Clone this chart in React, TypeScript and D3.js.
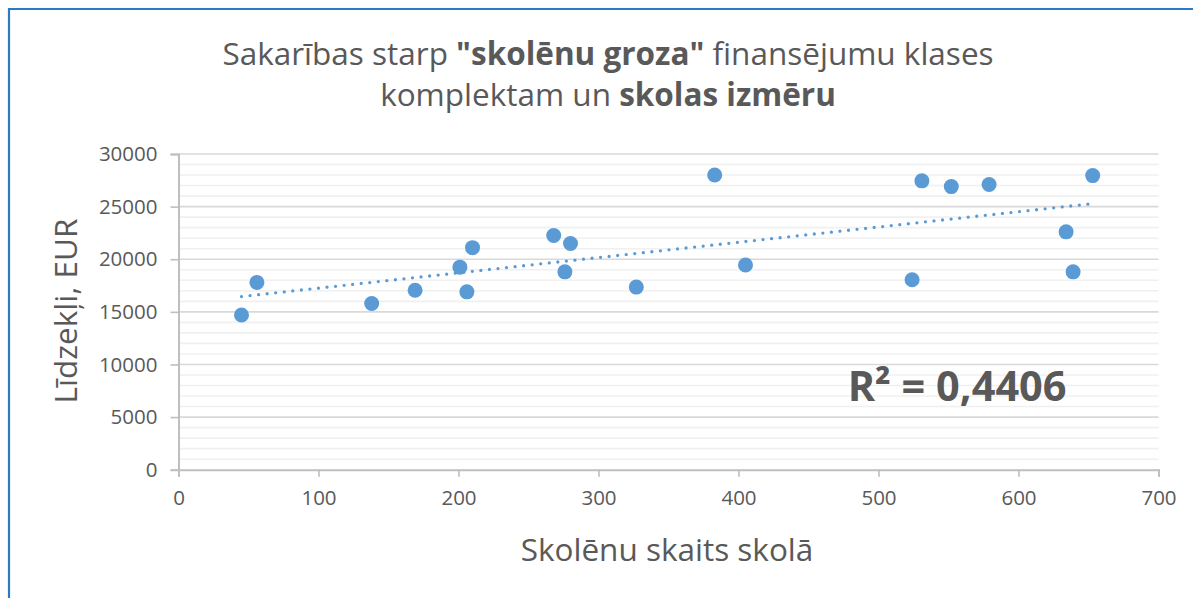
import { useEffect, useRef } from 'react';
import * as d3 from 'd3';

// skolēnu skaits skolā
const students = [45, 56, 138, 169, 201, 206, 210, 268, 276, 280, 327, 383, 405, 524, 531, 552, 579, 634, 639, 653];
// līdzekļi, EUR
const funds = [14700, 17800, 15800, 17050, 19250, 16900, 21100, 22250, 18800, 21500, 17350, 28000, 19450, 18050, 27450, 26900, 27100, 22600, 18800, 27950];

const xTicks = [0, 100, 200, 300, 400, 500, 600, 700];
const yTicks = [0, 5000, 10000, 15000, 20000, 25000, 30000];
const rSquaredLabel = 'R² = 0,4406';

export default function App() {
  const ref = useRef<SVGSVGElement | null>(null);

  useEffect(() => {
    if (!ref.current) return;
    const svg = d3.select(ref.current);
    svg.selectAll('*').remove();

    const width = 1193;
    const height = 598;
    const font = "'Open Sans', sans-serif";
    const textColor = '#595959';

    svg.attr('width', width).attr('height', height);
    svg.append('rect').attr('width', width).attr('height', height).attr('fill', '#fff');

    // chart frame (only left and top edge visible)
    svg.append('path')
      .attr('d', `M9,${height + 5} V9 H${width + 5}`)
      .attr('fill', 'none')
      .attr('stroke', '#2a7ac6')
      .attr('stroke-width', 2.2);

    const x = d3.scaleLinear().domain([0, 700]).range([178.5, 1158.5]);
    const y = d3.scaleLinear().domain([0, 30000]).range([469.7, 154]);

    const g = svg.append('g');

    // minor gridlines
    g.append('g')
      .selectAll('line')
      .data(d3.range(1000, 30001, 1000).filter((v) => v % 5000 !== 0))
      .join('line')
      .attr('x1', x(0))
      .attr('x2', x(700))
      .attr('y1', (d) => y(d))
      .attr('y2', (d) => y(d))
      .attr('stroke', '#f0f0f0')
      .attr('stroke-width', 1.6);

    // major gridlines
    g.append('g')
      .selectAll('line')
      .data(yTicks.filter((v) => v > 0))
      .join('line')
      .attr('x1', x(0))
      .attr('x2', x(700))
      .attr('y1', (d) => y(d))
      .attr('y2', (d) => y(d))
      .attr('stroke', '#d9d9d9')
      .attr('stroke-width', 1.6);

    // axes
    const xAxis = g.append('g')
      .attr('transform', `translate(0,${y(0)})`)
      .call(d3.axisBottom(x).tickValues(xTicks).tickSize(7).tickPadding(10).tickFormat((d) => `${d}`));
    const yAxis = g.append('g')
      .attr('transform', `translate(${x(0)},0)`)
      .call(d3.axisLeft(y).tickValues(yTicks).tickSize(8).tickPadding(13).tickFormat((d) => `${d}`));

    [xAxis, yAxis].forEach((ax) => {
      ax.select('.domain').attr('stroke', '#bfbfbf').attr('stroke-width', 2);
      ax.selectAll('.tick line').attr('stroke', '#bfbfbf').attr('stroke-width', 1.6);
      ax.selectAll('.tick text')
        .attr('fill', textColor)
        .attr('font-family', font)
        .attr('font-size', '20.5px');
    });
    xAxis.selectAll('.tick text').attr('dy', '0.9em');

    // trendline (least squares)
    const mx = d3.mean(students)!;
    const my = d3.mean(funds)!;
    const sxy = d3.sum(students, (v, i) => (v - mx) * (funds[i] - my));
    const sxx = d3.sum(students, (v) => (v - mx) ** 2);
    const slope = sxy / sxx;
    const intercept = my - slope * mx;
    const [x0, x1] = d3.extent(students) as [number, number];

    g.append('line')
      .attr('x1', x(x0))
      .attr('y1', y(intercept + slope * x0))
      .attr('x2', x(x1))
      .attr('y2', y(intercept + slope * x1))
      .attr('stroke', '#5b9bd5')
      .attr('stroke-width', 3.3)
      .attr('stroke-linecap', 'round')
      .attr('stroke-dasharray', '0 8.6');

    // points
    g.append('g')
      .selectAll('circle')
      .data(students)
      .join('circle')
      .attr('cx', (d) => x(d))
      .attr('cy', (_, i) => y(funds[i]))
      .attr('r', 7.5)
      .attr('fill', '#5b9bd5');

    // R² label
    g.append('text')
      .attr('x', x(478))
      .attr('y', y(6550))
      .attr('font-family', font)
      .attr('font-size', '41.5px')
      .attr('font-weight', 700)
      .attr('fill', textColor)
      .text(rSquaredLabel);

    // title
    const title = svg.append('text')
      .attr('text-anchor', 'middle')
      .attr('font-family', font)
      .attr('font-size', '31.5px')
      .attr('fill', textColor);
    const l1 = title.append('tspan').attr('x', 608).attr('y', 65);
    l1.append('tspan').text('Sakarības starp ');
    l1.append('tspan').attr('font-weight', 700).text('"skolēnu groza"');
    l1.append('tspan').text(' finansējumu klases');
    const l2 = title.append('tspan').attr('x', 608).attr('y', 106);
    l2.append('tspan').text('komplektam un ');
    l2.append('tspan').attr('font-weight', 700).text('skolas izmēru');

    // axis titles
    svg.append('text')
      .attr('x', 667)
      .attr('y', 561)
      .attr('text-anchor', 'middle')
      .attr('font-family', font)
      .attr('font-size', '31.5px')
      .attr('fill', textColor)
      .text('Skolēnu skaits skolā');

    svg.append('text')
      .attr('transform', 'translate(77,311) rotate(-90)')
      .attr('text-anchor', 'middle')
      .attr('font-family', font)
      .attr('font-size', '31.5px')
      .attr('fill', textColor)
      .text('Līdzekļi, EUR');
  }, []);

  return (
    <div style={{ position: 'absolute', left: 0, top: 0 }}>
      <svg ref={ref}></svg>
    </div>
  );
}
